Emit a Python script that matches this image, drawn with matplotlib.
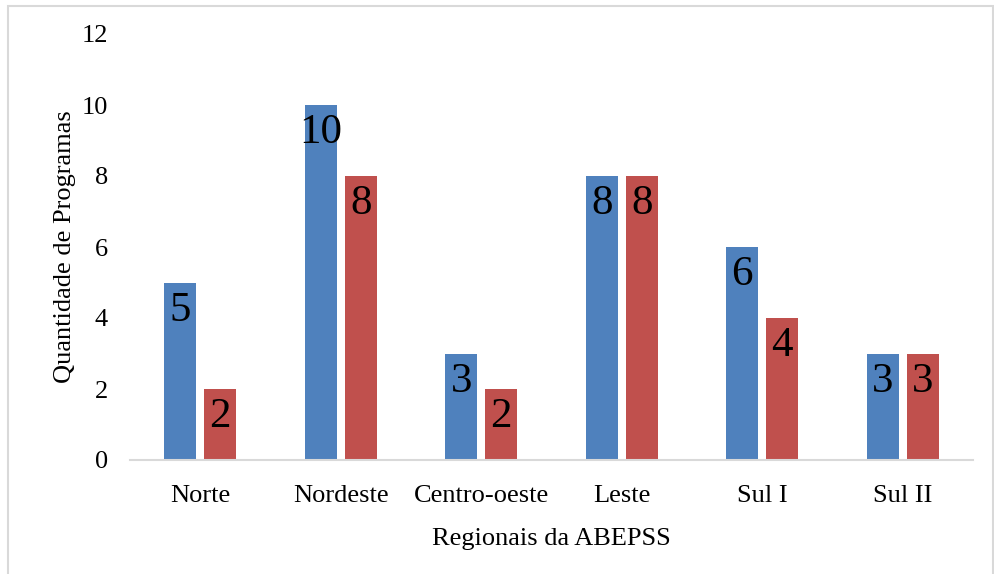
import matplotlib
matplotlib.use("Agg")
import matplotlib.pyplot as plt
import numpy as np
from matplotlib.patches import Rectangle

categories = ["Norte", "Nordeste", "Centro-oeste", "Leste", "Sul I", "Sul II"]
serie_a = [5, 10, 3, 8, 6, 3]
serie_b = [2, 8, 2, 8, 4, 3]
y_ticks = [0, 2, 4, 6, 8, 10, 12]

plt.rcParams['font.family'] = ['Liberation Serif', 'DejaVu Serif']

fig = plt.figure(figsize=(9.95, 5.74), dpi=100)
ax = fig.add_axes([130/995, 1-460/574, (973-130)/995, (460-34)/574])

x = np.arange(len(categories))
w = 0.228
off = 0.142
b1 = ax.bar(x - off, serie_a, w, color="#4F81BD")
b2 = ax.bar(x + off, serie_b, w, color="#C0504D")

for bars, vals in ((b1, serie_a), (b2, serie_b)):
    for rect, v in zip(bars, vals):
        ax.annotate(str(v), (rect.get_x() + rect.get_width()/2, v),
                    xytext=(0, -20), textcoords="offset points",
                    ha="center", va="center", fontsize=31, color="black")

ax.set_xlim(-0.5, len(categories) - 0.5)
ax.set_ylim(0, 12)
ax.set_yticks(y_ticks)
ax.set_yticklabels([str(t) for t in y_ticks], fontsize=19)
ax.set_xticks(x)
ax.set_xticklabels(categories, fontsize=19)
ax.tick_params(axis="both", length=0)
ax.tick_params(axis="x", pad=18)
ax.tick_params(axis="y", pad=16)
for s in ("top", "right", "left"):
    ax.spines[s].set_visible(False)
ax.spines["bottom"].set_color("#D9D9D9")
ax.spines["bottom"].set_linewidth(1.5)

ax.set_xlabel("Regionais da ABEPSS", fontsize=19, labelpad=15)
ax.set_ylabel("Quantidade de Programas", fontsize=19, labelpad=4)

fig.patches.append(Rectangle((8/995, -0.05), (993-8)/995, 1.05 - 6/574,
                             transform=fig.transFigure, fill=False,
                             edgecolor="#D9D9D9", linewidth=1.5))

fig.savefig("out.png", dpi=100)
